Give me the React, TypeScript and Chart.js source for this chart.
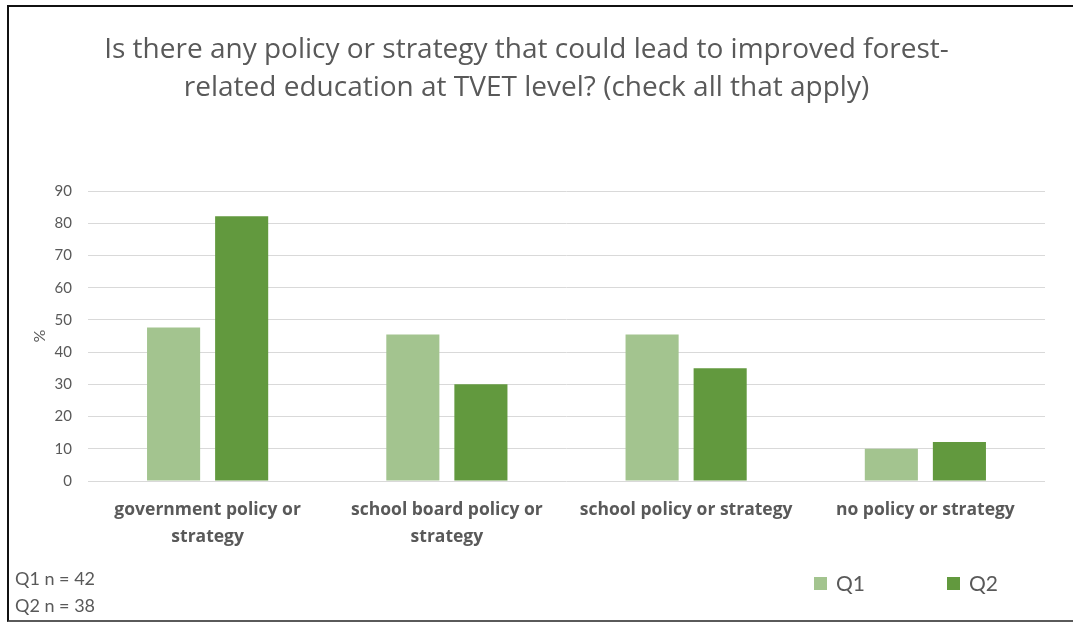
import React, { useEffect, useRef } from "react";
import { Chart, registerables } from "chart.js";

Chart.register(...registerables);

const categories: string[][] = [
  ["government policy or", "strategy"],
  ["school board policy or", "strategy"],
  ["school policy or strategy"],
  ["no policy or strategy"],
];
const q1Values = [47.6, 45.5, 45.5, 10.0];
const q2Values = [82.2, 30.0, 35.0, 12.1];
const seriesNames = ["Q1", "Q2"];
const seriesColors = ["#A3C48F", "#62993E"];
const titleLines = [
  "Is there any policy or strategy that could lead to improved forest-",
  "related education at TVET level? (check all that apply)",
];
const notes = ["Q1 n = 42", "Q2 n = 38"];
const yMax = 90;
const yStep = 10;

const FONT = "Lato, 'Open Sans', sans-serif";
const FONT2 = "'Open Sans', Lato, sans-serif";
const GRAY = "#595959";

const extrasPlugin = {
  id: "extras",
  afterDraw(chart: any) {
    const ctx = chart.ctx;
    ctx.save();
    // footnotes
    ctx.fillStyle = GRAY;
    ctx.font = `18px ${FONT}`;
    ctx.textAlign = "left";
    ctx.textBaseline = "middle";
    notes.forEach((t, i) => ctx.fillText(t, 15, 579 + i * 27));
    // legend
    const legendX = [814, 947];
    chart.data.datasets.forEach((ds: any, i: number) => {
      const x = legendX[i];
      ctx.fillStyle = ds.backgroundColor;
      ctx.fillRect(x, 577, 13, 13);
      ctx.fillStyle = GRAY;
      ctx.font = `21px ${FONT}`;
      ctx.textBaseline = "middle";
      ctx.fillText(ds.label, x + 22, 584);
    });
    ctx.restore();
  },
};

export default function App() {
  const ref = useRef<HTMLCanvasElement>(null);
  useEffect(() => {
    if (!ref.current) return;
    const chart = new Chart(ref.current, {
      type: "bar",
      data: {
        labels: categories,
        datasets: [
          {
            label: seriesNames[0],
            data: q1Values,
            backgroundColor: seriesColors[0],
            categoryPercentage: 0.569,
            barPercentage: 0.78,
          },
          {
            label: seriesNames[1],
            data: q2Values,
            backgroundColor: seriesColors[1],
            categoryPercentage: 0.569,
            barPercentage: 0.78,
          },
        ],
      },
      options: {
        responsive: false,
        animation: false,
        layout: { padding: { top: 0, left: 8, right: 28, bottom: 62 } },
        plugins: {
          legend: { display: false },
          tooltip: { enabled: false },
          title: {
            display: true,
            text: titleLines,
            color: GRAY,
            font: { family: FONT2, size: 28, weight: "normal", lineHeight: "38px" },
            padding: { top: 31, bottom: 84 },
          },
        },
        scales: {
          x: {
            grid: { display: false },
            border: { display: false },
            ticks: {
              color: GRAY,
              padding: 8,
              maxRotation: 0,
              autoSkip: false,
              font: { family: FONT2, size: 17.5, weight: "bold", lineHeight: "27px" },
            },
            afterFit: (s: any) => {
              s.height = 80;
            },
          },
          y: {
            min: 0,
            max: yMax,
            ticks: {
              stepSize: yStep,
              color: GRAY,
              padding: 16,
              font: { family: FONT, size: 15 },
            },
            grid: { color: "#D9D9D9", drawTicks: false, lineWidth: 1 },
            border: { display: false },
            title: {
              display: true,
              text: "%",
              color: GRAY,
              font: { family: FONT, size: 16, lineHeight: 1.2 },
              padding: { top: 22, bottom: 0 },
            },
            afterFit: (s: any) => {
              s.width = 80;
            },
          },
        },
      },
      plugins: [extrasPlugin],
    });
    return () => chart.destroy();
  }, []);

  return (
    <div
      style={{
        position: "absolute",
        left: 0,
        top: 0,
        width: 1073,
        height: 623,
        overflow: "hidden",
        background: "#fff",
      }}
    >
      <div
        style={{
          position: "absolute",
          left: 7,
          top: 5,
          width: 1100,
          height: 617,
          boxSizing: "border-box",
          borderTop: "2px solid #111",
          borderLeft: "2px solid #111",
          borderBottom: "2px solid #5a5a5a",
        }}
      />
      <canvas
        ref={ref}
        width={1073}
        height={623}
        style={{ position: "absolute", left: 0, top: 0 }}
      />
    </div>
  );
}
